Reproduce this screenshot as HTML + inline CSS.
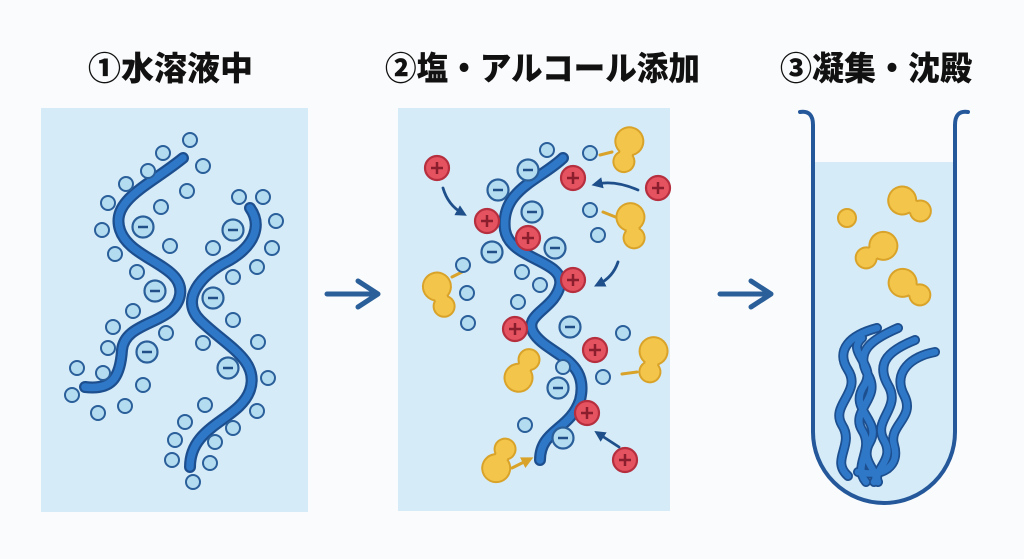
<!DOCTYPE html>
<html><head><meta charset="utf-8"><style>
html,body{margin:0;padding:0;background:#fafbfc;}
svg{display:block}
text{font-family:"Liberation Sans","Noto Sans CJK JP",sans-serif;font-weight:900;}
</style></head><body>
<svg width="1024" height="559" viewBox="0 0 1024 559" xmlns="http://www.w3.org/2000/svg">
<defs>
<g id="s"><circle r="7" fill="#b4dcf0" stroke="#2a5f9a" stroke-width="2"/></g>
<g id="m"><circle r="10.5" fill="#b4dcf0" stroke="#2a5f9a" stroke-width="2.2"/><line x1="-5" y1="0" x2="5" y2="0" stroke="#1f4f86" stroke-width="2.5"/></g>
<g id="p"><circle r="12" fill="#e55260" stroke="#b52f3f" stroke-width="2.2"/><line x1="-6" y1="0" x2="6" y2="0" stroke="#8a1e2c" stroke-width="2.5"/><line x1="0" y1="-6" x2="0" y2="6" stroke="#8a1e2c" stroke-width="2.5"/></g>
<g id="b"><circle cx="0" cy="-9" r="15" fill="#d9a32a"/><circle cx="0" cy="12" r="11.5" fill="#d9a32a"/><rect x="-8" y="-9" width="16" height="21" fill="#d9a32a"/><circle cx="0" cy="-9" r="13" fill="#f3c64b"/><circle cx="0" cy="12" r="9.5" fill="#f3c64b"/><rect x="-6" y="-9" width="12" height="21" fill="#f3c64b"/></g>
<marker id="ah" viewBox="0 0 10 10" refX="5" refY="5" markerWidth="4" markerHeight="4" orient="auto"><path d="M0,0 L10,5 L0,10 z" fill="#1e4f8a"/></marker>
<marker id="ay" viewBox="0 0 10 10" refX="5" refY="5" markerWidth="4" markerHeight="4" orient="auto"><path d="M0,0 L10,5 L0,10 z" fill="#d9a32a"/></marker>
</defs>

<text x="88" y="80" font-size="33" fill="#111">①水溶液中</text>
<text x="385" y="80" font-size="33" fill="#111" textLength="315" lengthAdjust="spacingAndGlyphs">②塩・アルコール添加</text>
<text x="780" y="80" font-size="33" fill="#111" textLength="192" lengthAdjust="spacingAndGlyphs">③凝集・沈殿</text>

<!-- panel 1 -->
<rect x="41" y="108" width="267" height="404" fill="#d5ebf8"/>
<g fill="none" stroke-linecap="round">
<path d="M183,158 C150,185 110,200 120,230 C130,260 185,265 180,295 C175,325 125,320 122,350 C120,380 110,390 85,387" stroke="#1d4f8f" stroke-width="12"/>
<path d="M183,158 C150,185 110,200 120,230 C130,260 185,265 180,295 C175,325 125,320 122,350 C120,380 110,390 85,387" stroke="#2f78c8" stroke-width="7.5"/>
<path d="M250,208 C262,225 255,245 230,260 C200,275 180,300 200,320 C225,345 260,360 250,390 C240,420 190,425 190,467" stroke="#1d4f8f" stroke-width="12"/>
<path d="M250,208 C262,225 255,245 230,260 C200,275 180,300 200,320 C225,345 260,360 250,390 C240,420 190,425 190,467" stroke="#2f78c8" stroke-width="7.5"/>
</g>
<use href="#m" x="143" y="227"/><use href="#m" x="155" y="291"/><use href="#m" x="147" y="352"/>
<use href="#m" x="233" y="230"/><use href="#m" x="213" y="298"/><use href="#m" x="228" y="368"/>
<use href="#s" x="190" y="140"/><use href="#s" x="163" y="153"/><use href="#s" x="203" y="166"/><use href="#s" x="148" y="171"/><use href="#s" x="126" y="184"/><use href="#s" x="187" y="191"/><use href="#s" x="108" y="203"/><use href="#s" x="161" y="207"/><use href="#s" x="102" y="230"/><use href="#s" x="170" y="246"/><use href="#s" x="115" y="254"/><use href="#s" x="137" y="272"/><use href="#s" x="133" y="311"/><use href="#s" x="113" y="327"/><use href="#s" x="166" y="333"/><use href="#s" x="108" y="348"/><use href="#s" x="77" y="368"/><use href="#s" x="103" y="373"/><use href="#s" x="143" y="385"/><use href="#s" x="72" y="395"/><use href="#s" x="98" y="413"/><use href="#s" x="125" y="406"/>
<use href="#s" x="239" y="197"/><use href="#s" x="263" y="197"/><use href="#s" x="276" y="221"/><use href="#s" x="272" y="248"/><use href="#s" x="213" y="248"/><use href="#s" x="257" y="267"/><use href="#s" x="233" y="277"/><use href="#s" x="233" y="320"/><use href="#s" x="203" y="343"/><use href="#s" x="258" y="342"/><use href="#s" x="268" y="378"/><use href="#s" x="205" y="405"/><use href="#s" x="257" y="411"/><use href="#s" x="185" y="422"/><use href="#s" x="233" y="428"/><use href="#s" x="175" y="440"/><use href="#s" x="215" y="442"/><use href="#s" x="172" y="460"/><use href="#s" x="210" y="463"/><use href="#s" x="193" y="482"/>

<!-- arrows between -->
<g stroke="#2a5f9a" stroke-width="5" fill="none" stroke-linecap="round" stroke-linejoin="round">
<path d="M327,294 H378 M358,281 L378,294 L358,307"/>
<path d="M720,294 H771 M751,281 L771,294 L751,307"/>
</g>

<!-- panel 2 -->
<rect x="398" y="108" width="272" height="403" fill="#d5ebf8"/>
<g fill="none" stroke-linecap="round">
<path d="M563,158 C540,180 500,190 505,230 C510,260 565,260 560,285 C555,310 520,315 535,335 C550,355 590,360 580,400 C570,430 540,430 540,460" stroke="#1d4f8f" stroke-width="12"/>
<path d="M563,158 C540,180 500,190 505,230 C510,260 565,260 560,285 C555,310 520,315 535,335 C550,355 590,360 580,400 C570,430 540,430 540,460" stroke="#2f78c8" stroke-width="7.5"/>
</g>
<g stroke="#d9a32a" stroke-width="3" stroke-linecap="round">
<line x1="612" y1="152" x2="600" y2="155"/><line x1="618" y1="218" x2="603" y2="212"/><line x1="452" y1="277" x2="462" y2="272"/><line x1="637" y1="372" x2="622" y2="374"/>
<line x1="512" y1="468" x2="528" y2="460" marker-end="url(#ay)"/>
</g>
<use href="#b" x="627" y="150" transform="rotate(15 627 150)"/>
<use href="#b" x="632" y="226" transform="rotate(-10 632 226)"/>
<use href="#b" x="440" y="295" transform="rotate(-20 440 295)"/>
<use href="#b" x="523" y="370" transform="rotate(210 523 370)"/>
<use href="#b" x="652" y="360" transform="rotate(10 652 360)"/>
<use href="#b" x="500" y="460" transform="rotate(205 500 460)"/>
<use href="#m" x="528" y="170"/><use href="#m" x="498" y="190"/><use href="#m" x="532" y="212"/><use href="#m" x="492" y="252"/><use href="#m" x="555" y="248"/><use href="#m" x="570" y="327"/><use href="#m" x="558" y="388"/><use href="#m" x="563" y="438"/>
<use href="#s" x="547" y="150"/><use href="#s" x="590" y="153"/><use href="#s" x="590" y="210"/><use href="#s" x="598" y="235"/><use href="#s" x="463" y="265"/><use href="#s" x="522" y="272"/><use href="#s" x="540" y="285"/><use href="#s" x="467" y="293"/><use href="#s" x="518" y="302"/><use href="#s" x="468" y="323"/><use href="#s" x="623" y="333"/><use href="#s" x="563" y="367"/><use href="#s" x="603" y="377"/><use href="#s" x="525" y="425"/>
<use href="#p" x="437" y="168"/><use href="#p" x="573" y="178"/><use href="#p" x="658" y="188"/><use href="#p" x="487" y="221"/><use href="#p" x="528" y="238"/><use href="#p" x="573" y="280"/><use href="#p" x="515" y="329"/><use href="#p" x="595" y="350"/><use href="#p" x="587" y="413"/><use href="#p" x="625" y="460"/>
<g stroke="#1e4f8a" stroke-width="2.8" fill="none" stroke-linecap="round">
<path d="M443,188 Q448,205 462,213" marker-end="url(#ah)"/>
<path d="M638,190 Q615,180 597,184" marker-end="url(#ah)"/>
<path d="M618,262 Q613,277 599,284" marker-end="url(#ah)"/>
<path d="M619,447 L599,434" marker-end="url(#ah)"/>
</g>

<!-- tube -->
<path d="M813,162 H955 V432 A71,71 0 0 1 813,432 Z" fill="#d5ebf8"/>
<path d="M800,112 Q813,110 813,125 V432 A71,71 0 0 0 955,432 V125 Q955,110 968,112" fill="none" stroke="#24589a" stroke-width="4" stroke-linecap="round"/>
<use href="#b" x="910" y="205" transform="rotate(-60 910 205)"/>
<circle cx="847" cy="218" r="9" fill="#f3c64b" stroke="#d9a32a" stroke-width="2"/>
<use href="#b" x="876" y="251" transform="rotate(55 876 251)"/>
<use href="#b" x="910" y="288" transform="rotate(-55 910 288)"/>
<g fill="none" stroke-linecap="round">
<g stroke="#1d4f8f" stroke-width="10">
<path d="M877,328 C850,335 835,350 848,370 C862,392 830,405 842,425 C855,445 830,460 848,476"/>
<path d="M898,328 C870,340 855,352 868,375 C882,398 850,410 862,430 C875,450 852,465 866,482"/>
<path d="M915,340 C890,350 875,362 888,385 C902,408 872,420 884,440 C896,460 872,470 878,482"/>
<path d="M935,352 C912,356 892,372 904,395 C916,418 888,425 894,445 C900,465 884,478 858,472"/>
<path d="M862,338 C845,352 878,365 864,386 C848,410 882,420 870,442 C858,462 882,472 874,482"/>
</g>
<g stroke="#2f78c8" stroke-width="6.5">
<path d="M877,328 C850,335 835,350 848,370 C862,392 830,405 842,425 C855,445 830,460 848,476"/>
<path d="M898,328 C870,340 855,352 868,375 C882,398 850,410 862,430 C875,450 852,465 866,482"/>
<path d="M915,340 C890,350 875,362 888,385 C902,408 872,420 884,440 C896,460 872,470 878,482"/>
<path d="M935,352 C912,356 892,372 904,395 C916,418 888,425 894,445 C900,465 884,478 858,472"/>
<path d="M862,338 C845,352 878,365 864,386 C848,410 882,420 870,442 C858,462 882,472 874,482"/>
</g>
</g>
</svg>
</body></html>
